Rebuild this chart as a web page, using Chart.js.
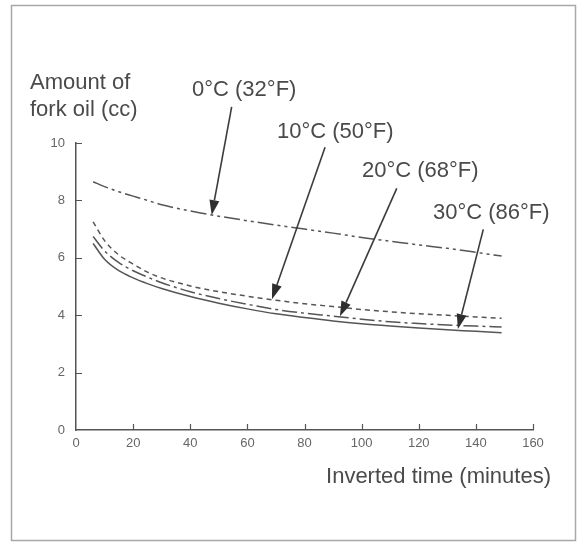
<!DOCTYPE html>
<html>
<head>
<meta charset="utf-8">
<script src="https://cdn.jsdelivr.net/npm/chart.js@4/dist/chart.umd.min.js"></script>
<style>
  html, body { margin: 0; padding: 0; background: #fff; }
  #wrap { width: 577px; height: 543px; }
</style>
</head>
<body>
<div id="wrap"><canvas id="c" width="577" height="543"></canvas></div>
<script>
// Inverted time (minutes) at which the oil amount was read
const times   = [6, 10, 15, 20, 25, 30, 40, 50, 60, 70, 80, 90, 100, 110, 120, 130, 140, 149];
// Amount of fork oil (cc) per temperature
const oil0C   = [8.65, 8.48, 8.30, 8.15, 8.00, 7.85, 7.63, 7.45, 7.29, 7.14, 7.00, 6.86, 6.71, 6.58, 6.45, 6.33, 6.19, 6.06];
const oil10C  = [7.25, 6.60, 6.10, 5.78, 5.50, 5.30, 5.02, 4.82, 4.66, 4.52, 4.40, 4.30, 4.20, 4.12, 4.05, 4.00, 3.94, 3.89];
const oil20C  = [6.74, 6.24, 5.83, 5.55, 5.33, 5.13, 4.82, 4.58, 4.38, 4.20, 4.07, 3.97, 3.86, 3.77, 3.71, 3.66, 3.62, 3.59];
const oil30C  = [6.50, 5.95, 5.55, 5.30, 5.10, 4.93, 4.65, 4.42, 4.22, 4.05, 3.92, 3.80, 3.70, 3.62, 3.55, 3.49, 3.44, 3.39];
const seriesNames = ['0°C (32°F)', '10°C (50°F)', '20°C (68°F)', '30°C (86°F)'];
const xTicks = [0, 20, 40, 60, 80, 100, 120, 140, 160];
const yTicks = [0, 2, 4, 6, 8, 10];

const INK = '#4a4a4a';
const FONT = '"Liberation Sans", Arial, Helvetica, sans-serif';

function pts(values) { return times.map((t, i) => ({ x: t, y: values[i] })); }

// Callout labels with arrows pointing at their curve (arrow ends in data units)
const callouts = [
  { text: seriesNames[0], tx: 192, ty: 90,  from: [54.5, 11.26], to: [47.5, 7.49] },
  { text: seriesNames[1], tx: 277, ty: 132, from: [87.2, 9.85],  to: [68.6, 4.56] },
  { text: seriesNames[2], tx: 362, ty: 171, from: [112.3, 8.42], to: [92.4, 3.96] },
  { text: seriesNames[3], tx: 433, ty: 213, from: [142.6, 6.99], to: [133.7, 3.52] }
];

const decor = {
  id: 'decor',
  beforeDraw(chart) {
    const ctx = chart.ctx;
    ctx.save();
    ctx.fillStyle = '#fff';
    ctx.fillRect(0, 0, chart.width, chart.height);
    ctx.strokeStyle = '#a8a8a8';
    ctx.lineWidth = 1.5;
    ctx.strokeRect(11.5, 5.5, 564, 535);
    ctx.restore();
  },
  afterDraw(chart) {
    const ctx = chart.ctx;
    const xs = chart.scales.x, ys = chart.scales.y;
    const a = chart.chartArea;
    ctx.save();
    // inward tick marks
    ctx.strokeStyle = '#555';
    ctx.lineWidth = 1.2;
    ctx.beginPath();
    xTicks.forEach(v => {
      if (v === 0) return;
      const px = Math.round(xs.getPixelForValue(v)) + 0.5;
      ctx.moveTo(px, a.bottom); ctx.lineTo(px, a.bottom - 6);
    });
    yTicks.forEach(v => {
      if (v === 0) return;
      const py = Math.round(ys.getPixelForValue(v)) + 0.5;
      ctx.moveTo(a.left - 1, py); ctx.lineTo(a.left + 6, py);
    });
    ctx.stroke();

    // axis titles
    ctx.fillStyle = INK;
    ctx.font = '22px ' + FONT;
    ctx.textBaseline = 'middle';
    ctx.textAlign = 'left';
    ctx.fillText('Amount of', 30, 83);
    ctx.fillText('fork oil (cc)', 30, 110);
    ctx.textAlign = 'right';
    ctx.fillText('Inverted time (minutes)', 551, 477);

    // callouts
    ctx.textAlign = 'left';
    callouts.forEach(c => {
      ctx.fillStyle = INK;
      ctx.fillText(c.text, c.tx, c.ty);
      const x1 = xs.getPixelForValue(c.from[0]), y1 = ys.getPixelForValue(c.from[1]);
      const x2 = xs.getPixelForValue(c.to[0]),   y2 = ys.getPixelForValue(c.to[1]);
      const ang = Math.atan2(y2 - y1, x2 - x1);
      const L = 15, W = 5;
      const bx = x2 - L * Math.cos(ang), by = y2 - L * Math.sin(ang);
      ctx.strokeStyle = '#3c3c3c';
      ctx.lineWidth = 1.6;
      ctx.beginPath();
      ctx.moveTo(x1, y1); ctx.lineTo(bx, by);
      ctx.stroke();
      ctx.fillStyle = '#2e2e2e';
      ctx.beginPath();
      ctx.moveTo(x2, y2);
      ctx.lineTo(bx + W * Math.sin(ang), by - W * Math.cos(ang));
      ctx.lineTo(bx - W * Math.sin(ang), by + W * Math.cos(ang));
      ctx.closePath();
      ctx.fill();
    });
    ctx.restore();
  }
};

const lineBase = {
  borderColor: '#555',
  borderWidth: 1.5,
  pointRadius: 0,
  fill: false,
  cubicInterpolationMode: 'monotone'
};

new Chart(document.getElementById('c'), {
  type: 'line',
  data: {
    datasets: [
      Object.assign({ label: seriesNames[0], data: pts(oil0C),  borderDash: [16, 4, 3, 4, 3, 4] }, lineBase),
      Object.assign({ label: seriesNames[1], data: pts(oil10C), borderDash: [5, 4] }, lineBase),
      Object.assign({ label: seriesNames[2], data: pts(oil20C), borderDash: [15, 4, 3, 4] }, lineBase),
      Object.assign({ label: seriesNames[3], data: pts(oil30C), borderDash: [] }, lineBase)
    ]
  },
  options: {
    responsive: false,
    animation: false,
    events: [],
    layout: { padding: { left: 0, right: 44, top: 143, bottom: 0 } },
    plugins: { legend: { display: false }, tooltip: { enabled: false } },
    scales: {
      x: {
        type: 'linear',
        min: 0, max: 160,
        afterBuildTicks: s => { s.ticks = xTicks.map(v => ({ value: v })); },
        afterFit: s => { s.height = 113; },
        grid: { display: false, drawTicks: false },
        border: { display: true, color: '#555', width: 1.5 },
        ticks: { color: '#666', font: { family: FONT, size: 13 }, padding: 6, maxRotation: 0 }
      },
      y: {
        type: 'linear',
        min: 0, max: 10,
        afterBuildTicks: s => { s.ticks = yTicks.map(v => ({ value: v })); },
        afterFit: s => { s.width = 76; },
        grid: { display: false, drawTicks: false },
        border: { display: true, color: '#555', width: 1.5 },
        ticks: { color: '#666', font: { family: FONT, size: 13 }, padding: 11 }
      }
    }
  },
  plugins: [decor]
});
</script>
</body>
</html>
